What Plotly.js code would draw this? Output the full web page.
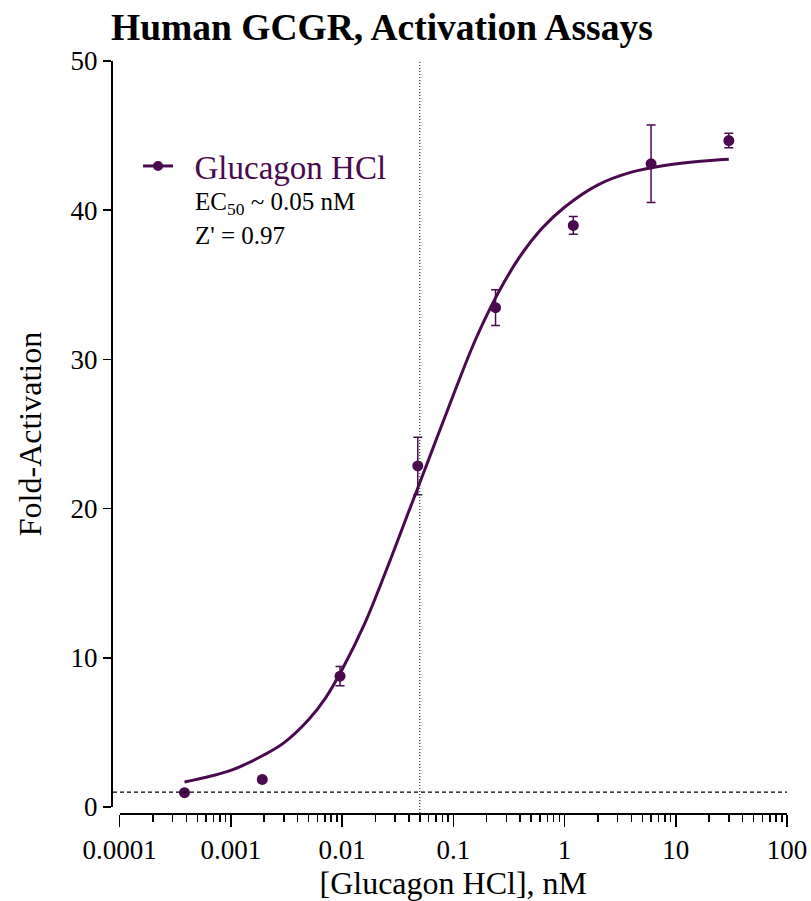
<!DOCTYPE html>
<html>
<head>
<meta charset="utf-8">
<script src="https://cdn.plot.ly/plotly-3.0.1.min.js"></script>
<style>html,body{margin:0;padding:0;background:#fff;}#chart{width:811px;height:901px;}</style>
</head>
<body>
<div id="chart"></div>
<script>
// Measured data (5-fold dilution series, nM)
const concentrations = [0.000384, 0.00192, 0.0096, 0.048, 0.24, 1.2, 6, 30];
const foldActivation = [0.96, 1.85, 8.77, 22.86, 33.47, 38.98, 43.11, 44.67];
const errorSD = [0, 0, 0.64, 1.93, 1.2, 0.6, 2.6, 0.48];

// Fitted curve
const curveX = [0.000384, 0.001, 0.002, 0.003, 0.005, 0.0071, 0.01, 0.0158, 0.0251, 0.0398, 0.0631, 0.1, 0.158, 0.251, 0.398, 0.631, 1, 2, 4, 7.9, 15.8, 30];
const curveY = [1.67, 2.45, 3.5, 4.3, 5.85, 7.3, 9.2, 12.2, 15.9, 19.8, 23.7, 27.6, 31.3, 34.4, 36.9, 38.8, 40.2, 41.7, 42.55, 43.0, 43.27, 43.42];

const seriesName = 'Glucagon HCl';
const ec50 = 0.05;
const baseline = 1;
const xTickVals = [0.0001, 0.001, 0.01, 0.1, 1, 10, 100];
const xTickText = ['0.0001', '0.001', '0.01', '0.1', '1', '10', '100'];
const yTickVals = [0, 10, 20, 30, 40, 50];

const purple = '#4a0a4e';
const serif = 'Liberation Serif, Times New Roman, serif';

// minor tick positions (2..9 within each decade)
const minorVals = [];
for (let d = -4; d < 2; d++) for (let m = 2; m <= 9; m++) minorVals.push(m * Math.pow(10, d));

const W = 811, H = 901;
const mL = 111, mR = 24, mT = 61, mB = 88;
const pw = W - mL - mR, ph = H - mT - mB;

const traces = [
  {
    x: curveX, y: curveY, type: 'scatter', mode: 'lines',
    line: {color: purple, width: 3, shape: 'spline', smoothing: 1},
    showlegend: false, hoverinfo: 'skip'
  },
  {
    x: concentrations, y: foldActivation, type: 'scatter', mode: 'markers',
    marker: {color: purple, size: 11},
    error_y: {type: 'data', array: errorSD, visible: true, color: purple, thickness: 1.5, width: 4.5},
    showlegend: false
  },
  {
    x: [null], y: [null], type: 'scatter', mode: 'lines+markers', name: '\u00a0\u00a0' + seriesName,
    line: {color: purple, width: 3}, marker: {color: purple, size: 10}
  }
];

const layout = {
  width: W, height: H,
  margin: {l: mL, r: mR, t: mT, b: mB, pad: 0},
  paper_bgcolor: '#fff', plot_bgcolor: 'rgba(0,0,0,0)',
  font: {family: serif, color: '#000'},
  title: {
    text: 'Human GCGR, Activation Assays',
    font: {family: serif, size: 37.5, weight: 'bold', color: '#000'},
    xref: 'paper', x: 0, xanchor: 'left',
    yref: 'container', y: 1 - 27 / H, yanchor: 'middle'
  },
  xaxis: {
    type: 'log', range: [-4, 2], domain: [8.5 / pw, 1],
    anchor: 'free', position: 0,
    showline: true, linecolor: '#000', linewidth: 1.5,
    ticks: 'outside', ticklen: 12, tickwidth: 1.5, tickcolor: '#000',
    tickmode: 'array', tickvals: xTickVals, ticktext: xTickText,
    minor: {ticks: 'outside', ticklen: 7, tickwidth: 1.5, tickcolor: '#000', tickmode: 'array', tickvals: minorVals, showgrid: false},
    showgrid: false, zeroline: false,
    tickfont: {family: serif, size: 27, color: '#000'},
    title: {text: '[Glucagon HCl], nM', font: {family: serif, size: 32, color: '#000'}, standoff: 4}
  },
  yaxis: {
    range: [0, 50], domain: [6 / ph, 1],
    anchor: 'free', position: 0,
    showline: true, linecolor: '#000', linewidth: 1.5,
    ticks: 'outside', ticklen: 8, tickwidth: 1.5, tickcolor: '#000',
    tickmode: 'array', tickvals: yTickVals,
    showgrid: false, zeroline: false,
    tickfont: {family: serif, size: 27, color: '#000'},
    title: {text: 'Fold-Activation', font: {family: serif, size: 32, color: '#000'}, standoff: 18}
  },
  legend: {
    x: 0.040, xanchor: 'left', y: (mT + ph - 166) / ph, yanchor: 'middle',
    bgcolor: 'rgba(0,0,0,0)', borderwidth: 0,
    font: {family: serif, size: 33, color: purple},
    itemwidth: 30
  },
  shapes: [
    {type: 'line', xref: 'x', yref: 'paper', x0: ec50, x1: ec50, y0: 0, y1: 1,
     line: {color: '#333', width: 1.2, dash: '1px,2px'}},
    {type: 'line', xref: 'paper', yref: 'y', x0: 2 / pw, x1: 1, y0: baseline, y1: baseline,
     line: {color: '#000', width: 1.3, dash: '4px,3px'}}
  ],
  annotations: [
    {text: 'EC<sub>50</sub> ~ 0.05 nM', xref: 'paper', yref: 'paper',
     x: (193 - mL) / pw, xanchor: 'left', y: (mT + ph - 203) / ph, yanchor: 'middle',
     showarrow: false, font: {family: serif, size: 25, color: '#000'}},
    {text: "Z' = 0.97", xref: 'paper', yref: 'paper',
     x: (193 - mL) / pw, xanchor: 'left', y: (mT + ph - 235) / ph, yanchor: 'middle',
     showarrow: false, font: {family: serif, size: 25, color: '#000'}}
  ]
};

Plotly.newPlot('chart', traces, layout, {staticPlot: true, displayModeBar: false});
</script>
</body>
</html>
